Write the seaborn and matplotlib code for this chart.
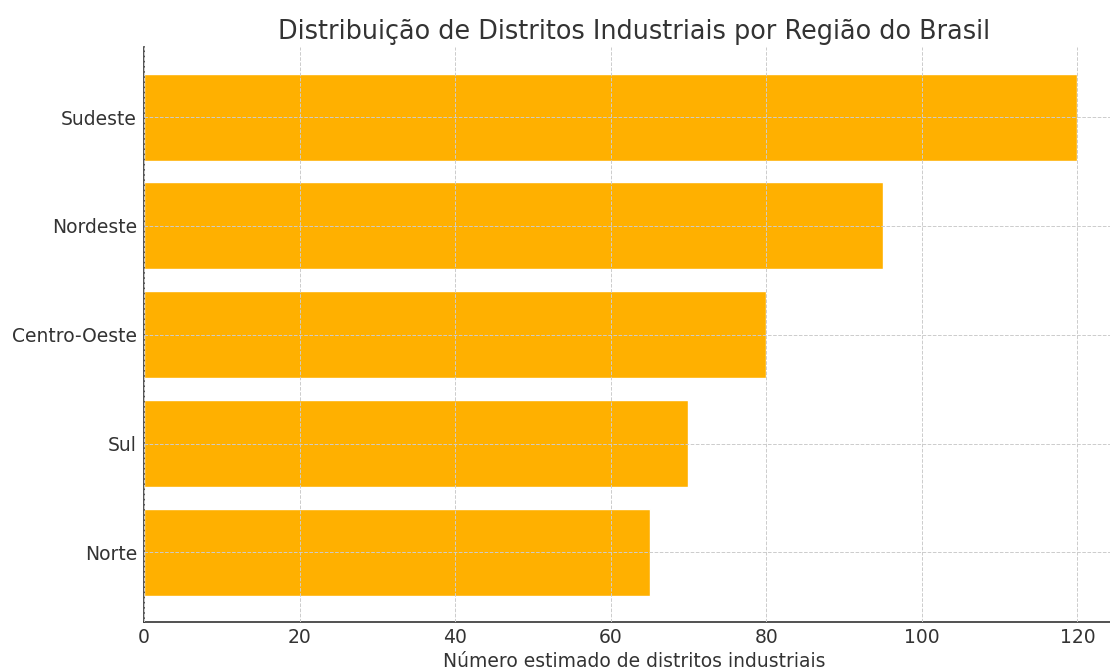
import matplotlib
matplotlib.use("Agg")
import matplotlib.pyplot as plt
import seaborn as sns
import pandas as pd

# Dados por região
regioes = ["Sudeste", "Nordeste", "Centro-Oeste", "Sul", "Norte"]
distritos = [120, 95, 80, 70, 65]

df = pd.DataFrame({"Região": regioes, "Distritos": distritos})

sns.set_style("white")
plt.rcParams["font.family"] = ["DejaVu Sans"]

fig = plt.figure(figsize=(11.1, 6.69), dpi=100)
# axes run slightly past the right edge of the figure, as in the original
ax = fig.add_axes([0.1297, 0.0703, 0.883, 0.8587])

sns.barplot(data=df, x="Distritos", y="Região", orient="h", color="#FFB000",
            saturation=1, width=0.8, ax=ax)

ax.set_xlim(0, 126)
ax.set_ylim(4.64, -0.64)
ax.set_xticks([0, 20, 40, 60, 80, 100, 120])
ax.set_axisbelow(False)
ax.grid(True, linestyle="--", color="#cccccc", linewidth=0.7)

ax.set_title("Distribuição de Distritos Industriais por Região do Brasil",
             fontsize=18.4, color="#333333", pad=6)
ax.set_xlabel("Número estimado de distritos industriais", fontsize=13.5,
              color="#333333", labelpad=4)
ax.set_ylabel("")
ax.tick_params(axis="both", labelsize=13.5, colors="#333333", length=4, width=1,
               direction="in")
ax.tick_params(axis="x", pad=4)
ax.tick_params(axis="y", pad=5)
for s in ["top", "right"]:
    ax.spines[s].set_visible(False)
for s in ["left", "bottom"]:
    ax.spines[s].set_color("#333333")
    ax.spines[s].set_linewidth(1.2)

fig.savefig("out.png", dpi=100)
